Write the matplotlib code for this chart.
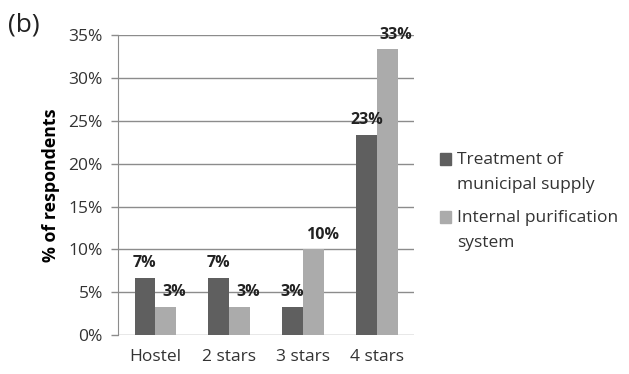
import matplotlib.pyplot as plt
import matplotlib.patches as mpatches
from matplotlib.legend_handler import HandlerPatch
import numpy as np

plt.rcParams['font.family'] = ['Open Sans', 'DejaVu Sans']

categories = ['Hostel', '2 stars', '3 stars', '4 stars']
municipal = [6.67, 6.67, 3.33, 23.33]
internal = [3.33, 3.33, 10.0, 33.33]
series_names = ['Treatment of\nmunicipal supply', 'Internal purification\nsystem']
colors = ['#5f5f5f', '#ababab']

fig = plt.figure(figsize=(6.29, 3.74), dpi=100)
ax = fig.add_axes([0.188, 0.104, 0.470, 0.802])

x = np.arange(len(categories))
w = 0.28
b1 = ax.bar(x - w / 2, municipal, w, color=colors[0], zorder=3)
b2 = ax.bar(x + w / 2, internal, w, color=colors[1], zorder=3)

# value labels; the light series labels sit a little to the right
for bars, vals, dx in ((b1, municipal, 0.0), (b2, internal, 0.12)):
    for rect, v in zip(bars, vals):
        ax.text(rect.get_x() + rect.get_width() / 2 + dx, v + 0.8, '%.0f%%' % v,
                ha='center', va='bottom', fontsize=11.5, fontweight='bold',
                color='#222222', clip_on=False, zorder=4)

ax.set_xlim(-0.5, 3.5)
ax.set_ylim(0, 35)
ax.set_yticks(np.arange(0, 36, 5))
ax.set_yticklabels(['%d%%' % t for t in range(0, 36, 5)], fontsize=12.5, color='#333333')
ax.set_xticks(x)
ax.set_xticklabels(categories, fontsize=12.5, color='#333333')
ax.tick_params(axis='x', length=0, pad=10)
ax.tick_params(axis='y', length=5, color='#8c8c8c', width=1, pad=6)

ax.grid(axis='y', color='#8c8c8c', linewidth=1, zorder=0)
for s in ('top', 'right', 'bottom'):
    ax.spines[s].set_visible(False)
ax.spines['left'].set_color('#8c8c8c')

ax.set_ylabel('% of respondents', fontsize=12.8, fontweight='bold', labelpad=6)


# legend squares line up with the first line of each two-line label
def top_square(legend, orig_handle, xdescent, ydescent, width, height, fontsize):
    return mpatches.Rectangle((-xdescent, -ydescent + 9.4), width, height)


handles = [mpatches.Patch(color=c) for c in colors]
leg = fig.legend(handles, series_names, loc='center left', bbox_to_anchor=(0.675, 0.462),
                 frameon=False, fontsize=12.5, handlelength=0.65, handleheight=0.65,
                 handletextpad=0.3, labelspacing=1.0, labelcolor='#333333',
                 handler_map={mpatches.Patch: HandlerPatch(patch_func=top_square)})
for t in leg.get_texts():
    t.set_linespacing(1.75)

fig.text(0.012, 0.933, '(b)', fontsize=19, va='center', color='#222222')

fig.savefig('out.png', dpi=100)
